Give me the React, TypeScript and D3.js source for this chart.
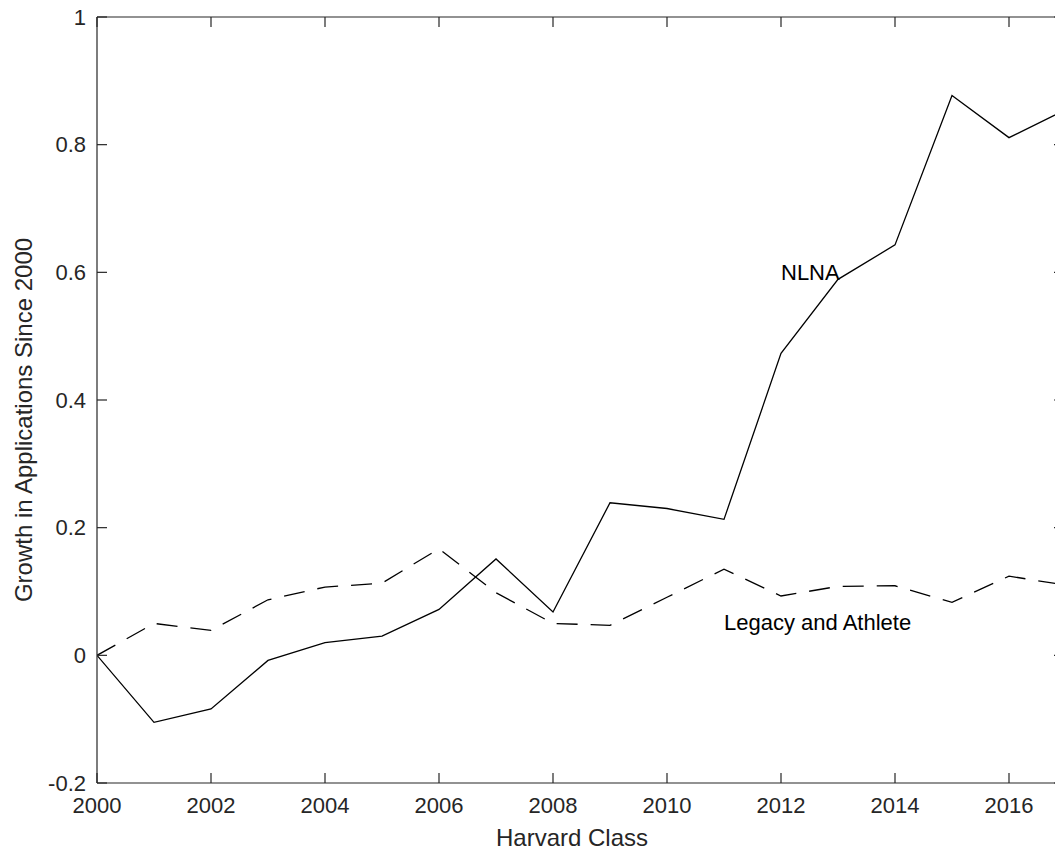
import React from "react";
import * as d3 from "d3";

const years = [2000, 2001, 2002, 2003, 2004, 2005, 2006, 2007, 2008, 2009, 2010, 2011, 2012, 2013, 2014, 2015, 2016, 2017];
const nlna = [0, -0.105, -0.084, -0.008, 0.02, 0.03, 0.072, 0.151, 0.068, 0.239, 0.23, 0.213, 0.473, 0.589, 0.643, 0.877, 0.811, 0.855];
const legacyAthlete = [0, 0.05, 0.039, 0.087, 0.107, 0.113, 0.167, 0.098, 0.05, 0.047, 0.091, 0.135, 0.093, 0.108, 0.109, 0.083, 0.124, 0.11];
const xTicks = [2000, 2002, 2004, 2006, 2008, 2010, 2012, 2014, 2016];
const yTicks = [-0.2, 0, 0.2, 0.4, 0.6, 0.8, 1];
const yTickLabels = ["-0.2", "0", "0.2", "0.4", "0.6", "0.8", "1"];

const FONT = "'Liberation Sans', Arial, Helvetica, sans-serif";
const TXT = "#262626";

export default function App() {
  const left = 97, right = 1066, top = 17, bottom = 783;
  const x = d3.scaleLinear().domain([2000, 2017]).range([left, right]);
  const y = d3.scaleLinear().domain([-0.2, 1]).range([bottom, top]);
  const line = d3.line<number>().x((_, i) => x(years[i])).y((d) => y(d));
  const tk = 10;
  return (
    <svg width={1055} height={850} style={{ position: "absolute", left: 0, top: 0, background: "#fff" }}>
      <defs>
        <clipPath id="plot">
          <rect x={left} y={top} width={right - left} height={bottom - top} />
        </clipPath>
      </defs>
      <rect x={0} y={0} width={1055} height={850} fill="#fff" />
      <g clipPath="url(#plot)">
        <path d={line(nlna) || ""} fill="none" stroke="#000" strokeWidth={1.3} />
        <path d={line(legacyAthlete) || ""} fill="none" stroke="#000" strokeWidth={1.3} strokeDasharray="21,13" />
      </g>
      {/* axes box */}
      <g stroke={TXT} strokeWidth={1.2} fill="none">
        <line x1={left} y1={top} x2={left} y2={bottom} />
        <line x1={left} y1={bottom} x2={right} y2={bottom} />
        <line x1={left} y1={top} x2={right} y2={top} />
        <line x1={right} y1={top} x2={right} y2={bottom} />
        {xTicks.map((t) => (
          <g key={"xt" + t}>
            <line x1={x(t)} y1={bottom} x2={x(t)} y2={bottom - tk} />
            <line x1={x(t)} y1={top} x2={x(t)} y2={top + tk} />
          </g>
        ))}
        {yTicks.map((t) => (
          <g key={"yt" + t}>
            <line x1={left} y1={y(t)} x2={left + tk} y2={y(t)} />
            <line x1={right} y1={y(t)} x2={right - 12} y2={y(t)} />
          </g>
        ))}
      </g>
      <g fill={TXT} fontFamily={FONT} fontSize={22}>
        {xTicks.map((t) => (
          <text key={"xl" + t} x={x(t)} y={813} textAnchor="middle">{String(t)}</text>
        ))}
        {yTicks.map((t, i) => (
          <text key={"yl" + t} x={86} y={y(t)} textAnchor="end" dominantBaseline="central">{yTickLabels[i]}</text>
        ))}
      </g>
      <text x={572} y={846} textAnchor="middle" fill={TXT} fontFamily={FONT} fontSize={24}>Harvard Class</text>
      <text transform={`translate(32,420) rotate(-90)`} textAnchor="middle" fill={TXT} fontFamily={FONT} fontSize={24}>Growth in Applications Since 2000</text>
      <text x={781} y={280} fill="#000" fontFamily={FONT} fontSize={22}>NLNA</text>
      <text x={724} y={630} fill="#000" fontFamily={FONT} fontSize={22}>Legacy and Athlete</text>
    </svg>
  );
}
